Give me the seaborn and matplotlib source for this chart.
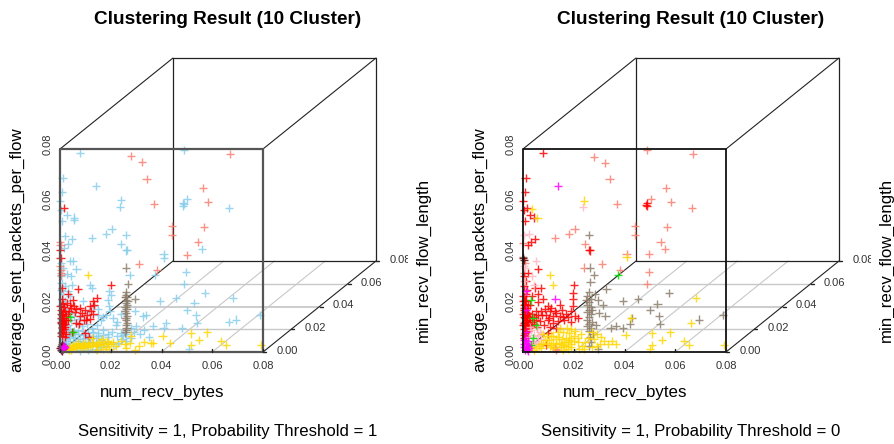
import pandas as pd
import matplotlib
matplotlib.use('Agg')
import matplotlib.pyplot as plt
import seaborn as sns
from matplotlib.transforms import Bbox

sns.set_style('white')
plt.rcParams['font.family'] = ['Liberation Sans', 'DejaVu Sans']
plt.rcParams['text.color'] = 'black'

# points as (x, y) read on the front face scale, in thousandths
L_BLUE = [(7.9,78.5),(48.8,79.7),(1,68.7),(14.2,65.5),(.9,62.9),(.1,59.7),(24.1,59.9),(23.8,57.3),(48.3,58.7),(50.1,60.4),
    (48.6,57.6),(48.9,58.3),(66.6,56.8),(.3,56),(2.6,54),(5.5,53),(5.5,52),(.9,51.7),(20.3,48.3),(18.2,46.5),(26.1,46),(12.6,44.8),
    (2,45.6),(4.7,44.5),(3,42.5),(1.5,41),(24.1,42.4),(26.3,40.3),(26,40),(56,40.5),(40.8,38.7),(40.9,37.2),(3.9,36),(5.3,35.8),
    (6.5,32.6),(2.7,30.6),(4.4,30),(1,33),(.4,30),(.6,27),(.3,24.5),(1.3,23),(.7,21),(2,20),(.5,18.5),(49.7,31.7),(27.4,30.4),(37.5,30.3),
    (48.9,26.9),(57.2,23.2),(45.7,21.2),(39.5,20),(68.2,21.2),(53,19.2),(49.9,16.7),(53.6,14.4),(78.8,14.5),(69.5,12.8),(66.5,11.7),
    (53.9,11.3),(48,9.6),(41.8,11.3),(40.8,9.3),(36.8,10.3),(34,14.6),(32.7,14),(29.5,16),(30,10.2),(28,9.3),(25,6.7),
    (11.8,26.5),(12.5,25.3),(4.8,26.5),(9,20),(13,18),(15,17),(19.5,24),(20,22.3),(19,20.5),(19.3,18),(19.7,16),(18.2,14.5),
    (21,13.5),(22.5,12),(24,15),(22,10.5),(16,12.5),(14.5,10.8),(12.5,9.5),(10.5,11),(8.5,10.3),(6.5,11.5),(4.5,12.5),
    (3,10.5),(1.5,11.5),(2.2,8.8),(3.8,9.2),(5.5,8.3),(7,8.8),(9,8.2),(11,7.5),(13,8),(15,7.4),(17,8.6),(18.8,7.2),(20.5,7.8),
    (22.5,6.4),(24.5,5),(26,4.2),(28,5.5),(23,3.5),(21,3),(18,2.5),(16,1.8),(14,1.2),(12.5,2.5),(11,.8),(9.5,1.5),(8,.6),(6.5,1.8),
    (5,2.8),(3.5,2),(2.5,4.5),(1.2,6.2),(.4,8),(.8,4),(4,5.5),(6,6),(8,5.2),(10,5.7),(12,5),(14,5.6),(16,4.8),(50.7,1.3),
    (3,7),(5,7),(7,7),(9,6.6),(11,6.3),(13,6.5),(15,6.2),(17,6.6),(19,5.8),(2,3),(3,3.6),(1.5,5),(3.5,6.2),(5,4.4),(7,4.2),(9,4),(11,3.9),
    (13,4),(15,3.2),(17,3.4),(19,4),(24,7.6),(26,7),(29,8),(31.5,7),(33,8.5),(35,6),(1.2,16),(1.8,14),(.5,13),(2.5,17),(4,15.5),(5.5,14),(7.5,13),
    (9.5,14.5),(11.5,16),(15,14.5),(17,13.7),(.3,35),(1.8,26),(3.2,24),(3.8,22)]
L_SALMON = [(28,77.1),(32.2,74.8),(34.1,68.1),(67,78.1),(56.2,64.7),(58.4,59.1),(37.2,58.4),(44.3,49.7),(56.8,49.2),(44.1,46.3),
    (54.3,43.3),(50,38.4),(31.3,34.8),(38.3,32.4),(0,43.3),(.3,31.3),(.5,30.4),(0,33.8),(.4,32.3),(.2,42)]
L_RED = [(1.7,56.8),(20,26.3),(7,25),(.9,25.3),(3.3,22.7),(.8,20.7),(14.7,21.3),(13.2,20),(13.4,18.7),(3.9,18.7),(7.9,17.3),
    (9.9,16.7),(13.2,15),(11.8,13),(9.3,12.7),(.9,14.7),(1.3,12.7),(.5,11.5),(2,11),(.7,9.8),(1.5,9),(2.4,14),(.4,16.7),(1.7,17.7),
    (6.5,11.3),(.7,9.3),(9.9,7.3),(4.7,8),(10.3,12.6),(8.7,15.2),(6,15.7),(3.7,16.3),(5,20.3),(2.6,19.2),(.6,13.4),(1,8),
    (1.1,15.9),(1.6,13.5),(2.5,7),(.3,7.4),(11.5,6),(7.4,10.9),(.2,18),(1.3,19),(2,16),(.5,15),(1,12),(1.8,10),(.3,12),(1.2,10.8),
    (3,15),(3.3,12.5),(4.5,17.5),(6.5,17),(8,14),(10.8,14.5),(12.3,16.2),(12,18),(2.2,12.6),(.8,11),(0,40),(.2,37),(5.5,18.3),(.6,6.5),(1.8,5.8)]
L_GOLD = [(10.9,30.4),(57.9,7.7),(51.6,7.3),(54.9,4.9),(40.4,6.4),(43.4,3.7),(51.6,2.7),(63.6,4.3),(65.4,2.9),(79.3,2.8),
    (36,3.7),(29.6,.7),(28,6.5),(25.5,3),(27.5,3.5),(26,1.5),(24,4.5),(21,3.8),(22.2,2.5),(20,3.2),(18.5,4.5),(17.5,3),(16.5,5),
    (15.8,2.8),(15,4),(14,2.5),(13,3.6),(12,2.2),(11.5,3.4),(10.5,1.8),(10,3.6),(9.3,2.3),(8.5,3),(8,1.7),(7.3,3.5),(6.7,2),(6.2,3),
    (5.5,1.5),(5,2.8),(4.5,1),(4,2.2),(3.5,.8),(17,1.2),(14.5,.8),(18,2),(36.7,3.6),(31,2.5),(33,4),(19.5,1.2),(12.5,5.5),
    (19,3.7),(16,3.8),(14.5,3.2),(12.7,2.8),(11,2.6),(9.8,2.9),(8.8,1.9),(7.5,2.6),(6,2.2),(5,1.8),(3,1.3)]
L_TAN = [(26,33.3),(26.8,26.7),(26.1,23.5),(25.9,22.5),(26.2,21.5),(29.6,21),(26.1,20.5),(26,19.5),(26.3,18.7),(25.8,17.8),(26.2,16.8),
    (25.7,16),(26,15.2),(26.5,14.3),(25.8,13.4),(26.1,12.6),(26.4,11.5),(25.9,10.5),(26.2,9.6),(26,8.6),(25.8,7.7),(25.6,21.8),(26.6,20.2)]
L_GREEN = [(3.9,13.6),(5,8)]
L_DARK = [(.3,.8),(.6,1.5),(.9,.5),(.4,2.2),(1,2.4),(.2,1.4),(.7,3),(1.3,1.2)]
L_MAGENTA = [(1,2),(1.5,1.5),(.8,1.2),(1.4,2.4),(1.9,2.1),(1.2,1.8)]

R_RED = [(7.8,78.5),(1,68.5),(.8,63),(.1,59.7),(.4,56),(1.7,56.7),(2.6,54),(4.2,53),(.7,51.5),(4.6,44.7),(3.3,43.3),(2,42),
    (26,40.2),(26.4,40),(48.5,58),(48.9,58.7),(48.7,57.7),(5.9,32.7),(20,26.3),(19.8,23.3),(19.8,20.7),(19.8,18),(7,25.1),(4.7,25.4),(6,22.7),
    (1.3,20),(2.6,18.7),(5.3,16),(9.9,18),(14.5,18.7),(13.2,15.3),(16.3,12.7),(21.5,13.3),(18.9,16),(9.9,12.7),(13.2,9.3),(9.2,2.7),
    (9.9,7.3),(.4,30),(1,28),(2,31),(1.2,23),(.5,26),(1.7,24.4),(.2,22),(.8,20.5),(.3,18.7),(1.4,17.5),(.6,16.5),(1,15.6),(.2,14.8),
    (1.6,14),(.7,13.3),(1.2,12.4),(.3,11.6),(2,11.2),(.9,10.6),(1.5,9.8),(.4,9),(2.4,9.5),(1.1,8.3),(2.8,12.8),(3.4,15),(4.5,11.2),
    (5.4,9.7),(6.8,12.3),(7.5,14.5),(8.7,17),(10.8,16),(12,14),(11.2,17.2),(15.2,16.5),(13.8,12.2),(16.9,15),(17.8,13.8),(20.3,14),(19,12),
    (3.5,22),(5.8,19.8),(8,20.8),(8.2,10.5),(10.6,9.7),(11.8,11.5),(.5,5.5),
    (.2,20),(.9,19),(1.8,18.5),(.5,17.5),(2,15.5),(1.2,14.6),(.4,13.8),(2.3,13.6),(.9,12),(1.7,12.6),(.2,10.5),(1.3,10.2),(2.6,10.7),(.7,7.5),
    (1.8,8.4),(.3,6.6),(1.3,6.4),(3.2,10),(3.6,12),(4.2,13.6),(5,12.8),(6,14.7),(7.2,16.3),(9.2,14.6),(10.4,13.5),(12.5,16.3),(14.4,14.3),(15.7,13.7)]
R_SALMON = [(28,77),(32.2,74.5),(34.1,68),(48.7,79.7),(67,78),(56.2,64.7),(50.3,60.4),(58.2,59),(66.7,56.7),(37.2,58.4),(44.2,49.7),
    (56.6,49.2),(44,46),(54.2,43.3),(56,40.5),(49.7,38.5),(40.8,38.7),(31.3,34.8),(38.3,32.4),(49.7,31.7),(48.8,26.9),(24.3,42.4),(12.6,44.8),
    (18,46.5),(20.3,48.3),(24.2,33.3),(13,1.3),(13.2,.8),(12.8,2),(0,43),(.3,31),(.8,35)]
R_PINK = [(23.7,57.3),(2.3,46.5),(.5,46),(5,36),(.3,34),(.8,33),(4.5,26.3),(3.5,30),(6.6,8),(7.2,5.3),(5.5,9.5),(4.3,6.8),(3,8.5),(6,3.4),(5.2,4.4),
    (2.5,6),(3.5,4),(4.5,3),(5.8,6.3),(7,7),(2.8,10),(.4,28),(1,24)]
R_GOLD = [(24.1,59.7),(3.7,56.5),(5.7,52.7),(40.8,37.3),(10.8,30.4),(11.8,26.3),(68,21.2),(42.5,13.3),(66.2,11.6),(57.9,7.7),(50.9,7.3),
    (40.4,6.7),(54.9,4.9),(63.4,4.3),(65.4,2.7),(79.3,2.9),(51,2.7),(50,1.3),(36.6,3.3),(35,4.4),(33.5,3.2),(32,4.5),(30.5,3.2),(29.3,2.5),
    (30.6,6),(27.8,5.2),(29,7.2),(27,7.7),(27,2),(24.3,4),(25.6,5.5),(23.2,2.5),(22.8,7),(20.6,8.3),(19,9),(18,7.5),(17.3,9.6),(15.8,8),(14.6,9.3),
    (13.7,7.7),(21.5,3.8),(20,4.4),(19,3),(17.6,3.8),(16.3,2.6),(15.2,5),(14,3.4),(13,5),(11.8,3.6),(11,6.5),(10.2,4.7),(9.4,6.4),(8.6,4.6),
    (8,7.2),(7.2,3),(6.4,2.2),(5.2,1.4),(4.4,.8),(10.6,2),(12.2,1.6),(14.8,2),(16.8,5.6),(18.8,5.6),(15.6,.7),(22,1.2),(24,1.2),(3.6,1.8),(17.7,1.3),
    (12,6.5),(14,6),(16,4),(18,4.6),(20,6.5),(21.8,5.6),(13,3.2),(11,2.8),(9.5,3.4),(8,3.2),(7,1.7),(15,3),(17,2.2),(19,1.8)]
R_TAN = [(26,46),(26.3,33.3),(28,30.3),(26.6,27.5),(32.9,25),(39.5,20),(45.4,21),(57.4,23.2),(53,19),(50,16.7),(53.6,14.3),(54,11),(69.5,12.8),
    (78.9,14.5),(42.8,13.3),(42,11),(39.5,9.3),(34.5,9.3),(36.8,10.3),(32.5,14.3),(29.8,15.3),(28.8,10.7),(29.6,1.3),(31.5,18.5),(29.5,20.3),
    (28.3,22.8),(26,23.5),(25.4,22.2),(26.7,21),(26,19.8),(25.3,18.7),(26.9,17.8),(26.1,16.7),(25.2,15.7),(26.8,14.8),(25.9,13.8),(25.1,12.8),
    (27,12),(26.2,11.2),(25.3,10.3),(26.7,9.4),(26,8.4),(27.4,7),(26.3,6),(26.8,3.8),(26.1,2.2),(27.2,16.5),(24.8,20.5),(0,37.5)]
R_GREEN = [(37.6,30.3),(3.3,20.3),(4,13.3),(5,10.7),(3.3,2.7),(3.9,5.5)]
R_MAGENTA = [(13.9,65.3),(12.8,21),(1.3,24),(1.1,16.7),(1.3,8),(.5,3.2),(1,2),(1.5,1.2),(.8,.8),(1.8,2.5),(1.2,3.6),(1.9,.6),(.6,4.6),(2.3,1.6),
    (1.6,3),(.9,5.5),(2,4.2),(.4,1.8)]
R_DARK = [(0,37),(.3,36.4)]

PANEL_LEFT = [('blue', L_BLUE), ('salmon', L_SALMON), ('tan', L_TAN), ('red', L_RED), ('gold', L_GOLD),
              ('green', L_GREEN), ('dark', L_DARK), ('magenta', L_MAGENTA)]
PANEL_RIGHT = [('salmon', R_SALMON), ('red', R_RED), ('pink', R_PINK), ('tan', R_TAN), ('gold', R_GOLD),
               ('green', R_GREEN), ('dark', R_DARK), ('magenta', R_MAGENTA)]

COLORS = {'blue': '#87CEEB', 'salmon': '#FA8072', 'red': '#FF0000', 'tan': '#8B7D6B', 'gold': '#FFD700',
          'green': '#00E000', 'dark': '#6B0000', 'magenta': '#FF00FF', 'pink': '#FFB6C1'}

TICKS = [0.0, 0.02, 0.04, 0.06, 0.08]
TITLE = 'Clustering Result (10 Cluster)'
THRESHOLDS = [1, 0]

W, H = 894, 444
PANEL_W = 463
PX = 0.08 / 203   # one pixel in data units
DX, DY = 113 / 203, 91 / 203   # oblique shift of the depth axis


def proj(x, y, z):
    return x + z * DX, y + z * DY


def draw_panel(fig, left_px, panels, threshold, box_color, box_lw):
    ax = fig.add_axes([left_px / W, 0, PANEL_W / W, 1])
    ax.set_xlim(-60 * PX, (PANEL_W - 60) * PX)
    ax.set_ylim(-(H - 352) * PX, 352 * PX)
    ax.axis('off')

    # floor grid
    for t in TICKS[1:-1]:
        x0, y0 = proj(0, 0, t)
        x1, y1 = proj(0.08, 0, t)
        ax.plot([x0, x1], [y0, y1], color='#c8c8c8', lw=1.3 if t == 0.04 else 1, zorder=1)
        x0, y0 = proj(t, 0, 0)
        x1, y1 = proj(t, 0, 0.08)
        ax.plot([x0, x1], [y0, y1], color='#c8c8c8', lw=0.8, zorder=1)

    # back of the box and the four depth edges
    bx = [0, 0.08, 0.08, 0, 0]
    by = [0, 0, 0.08, 0.08, 0]
    pts = [proj(a, b, 0.08) for a, b in zip(bx, by)]
    ax.plot([p[0] for p in pts], [p[1] for p in pts], color='#222222', lw=0.9, zorder=1)
    for a, b in zip(bx[:4], by[:4]):
        p = proj(a, b, 0.08)
        ax.plot([a, p[0]], [b, p[1]], color='#222222', lw=0.8, zorder=1)

    rows = []
    for name, pts in panels:
        for x, y in pts:
            rows.append({'x': x / 1000, 'y': y / 1000, 'cluster': name})
    df = pd.DataFrame(rows)
    sns.scatterplot(data=df, x='x', y='y', hue='cluster', palette=COLORS, marker='+', s=34,
                    linewidth=1.0, alpha=0.85, legend=False, ax=ax, zorder=3)
    ax.set_xlabel('')
    ax.set_ylabel('')

    # front of the box, on top of the points
    ax.plot(bx, by, color=box_color, lw=box_lw, zorder=4)

    # ticks and tick labels
    for i, t in enumerate(TICKS):
        lab = f'{t:.2f}'
        ax.plot([t, t], [0, 3 * PX], color='#222222', lw=1, zorder=4)
        ax.text(t, -14 * PX, lab, ha='center', va='center', fontsize=8, color='#333333')
        shift = {0: -2, 4: 5}.get(i, 0)
        ax.text(-12 * PX, t + shift * PX, lab, rotation=90, ha='center', va='center',
                fontsize=8, color='#333333')
        x0, y0 = proj(0.08, 0, t)
        ax.plot([x0, x0 + 3 * PX], [y0, y0], color='#222222', lw=1, zorder=4)
        txt = ax.text(x0 + 24 * PX, y0 + PX, lab, ha='center', va='center', fontsize=8, color='#333333')
        if t == 0.08:
            # the plot region cuts this label off in the source image
            txt.set_clip_on(True)
            txt.set_clip_box(Bbox([[left_px, 0], [left_px + 408, H]]))

    ax.text(168 * PX, 333 * PX, TITLE, ha='center', va='center', fontsize=13.7, fontweight='bold', color='black')
    ax.text(102 * PX, -40 * PX, 'num_recv_bytes', ha='center', va='center', fontsize=12.2)
    ax.text(-43 * PX, 102 * PX, 'average_sent_packets_per_flow', rotation=90, ha='center', va='center', fontsize=12.2)
    ax.text(363 * PX, 92 * PX, 'min_recv_flow_length', rotation=90, ha='center', va='center', fontsize=12.2)
    ax.text(168 * PX, -79 * PX, f'Sensitivity = 1, Probability Threshold = {threshold}', ha='center', va='center',
            fontsize=12.1)


fig = plt.figure(figsize=(W / 100, H / 100), dpi=100)
draw_panel(fig, 0, PANEL_LEFT, THRESHOLDS[0], '#555555', 1.6)
draw_panel(fig, PANEL_W, PANEL_RIGHT, THRESHOLDS[1], '#111111', 1.3)
fig.savefig('out.png', dpi=100)
